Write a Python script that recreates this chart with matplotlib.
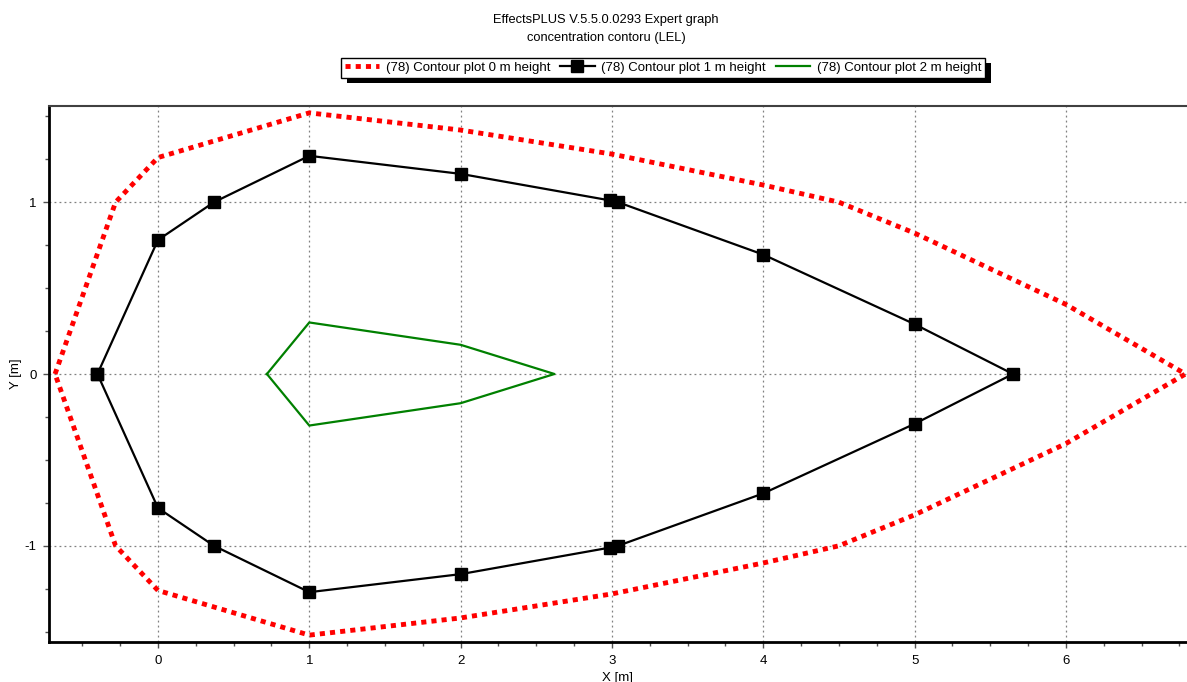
import matplotlib
matplotlib.use("Agg")
import matplotlib.pyplot as plt
from matplotlib.patches import Rectangle
from matplotlib.transforms import IdentityTransform
from matplotlib.ticker import MultipleLocator

plt.rcParams['font.family'] = ['Liberation Sans', 'DejaVu Sans']
plt.rcParams['axes.unicode_minus'] = False

# Contour at 0 m height
red_x = [-0.68, -0.28, 0.0, 1.0, 2.0, 3.0, 4.0, 4.5, 5.0, 6.0, 6.79,
         6.0, 5.0, 4.5, 4.0, 3.0, 2.0, 1.0, 0.0, -0.28, -0.68]
red_y = [0.0, 1.0, 1.26, 1.52, 1.42, 1.28, 1.10, 1.0, 0.82, 0.405, 0.0,
         -0.405, -0.82, -1.0, -1.10, -1.28, -1.42, -1.52, -1.26, -1.0, 0.0]

# Contour at 1 m height
blk_x = [-0.40, 0.0, 0.37, 1.0, 2.0, 2.99, 3.04, 4.0, 5.0, 5.65,
         5.0, 4.0, 3.04, 2.99, 2.0, 1.0, 0.37, 0.0, -0.40]
blk_y = [0.0, 0.78, 1.0, 1.27, 1.165, 1.01, 1.0, 0.695, 0.29, 0.0,
         -0.29, -0.695, -1.0, -1.01, -1.165, -1.27, -1.0, -0.78, 0.0]

# Contour at 2 m height
grn_x = [0.72, 1.0, 2.0, 2.62, 2.0, 1.0, 0.72]
grn_y = [0.0, 0.30, 0.17, 0.0, -0.17, -0.30, 0.0]

series_labels = ["(78) Contour plot 0 m height",
                 "(78) Contour plot 1 m height",
                 "(78) Contour plot 2 m height"]
title_lines = ["EffectsPLUS V.5.5.0.0293 Expert graph",
               "concentration contoru (LEL)"]

W, H = 1187, 682
fig = plt.figure(figsize=(W / 100, H / 100), dpi=100)
ax = fig.add_axes([49 / W, (H - 642) / H, 1 - 49 / W, (642 - 106) / H])

ax.plot(red_x, red_y, color='#ff0000', lw=3.5, ls=(0, (1.05, 1.05)),
        dash_capstyle='butt', solid_capstyle='butt', label=series_labels[0], zorder=3)
ax.plot(blk_x, blk_y, color='black', lw=1.6, marker='s', markersize=8,
        label=series_labels[1], zorder=4)
ax.plot(grn_x, grn_y, color='#008000', lw=1.6, label=series_labels[2], zorder=4)

ax.set_xlim(-0.72, 6.80)
ax.set_ylim(-1.56, 1.56)
ax.xaxis.set_major_locator(MultipleLocator(1))
ax.xaxis.set_minor_locator(MultipleLocator(0.25))
ax.yaxis.set_major_locator(MultipleLocator(1))
ax.yaxis.set_minor_locator(MultipleLocator(0.25))

ax.grid(True, which='major', color='#808080', lw=0.9, ls=(0, (1.5, 2.5)))
ax.set_axisbelow(True)

ax.tick_params(which='both', direction='out', labelsize=9.5, color='#505050')
ax.tick_params(which='major', length=4, width=1, pad=5)
ax.tick_params(which='minor', length=3, width=1)

for side in ('left', 'bottom'):
    ax.spines[side].set_linewidth(2.0)
    ax.spines[side].set_color('black')
ax.spines['top'].set_linewidth(1.5)
ax.spines['top'].set_color('#404040')
ax.spines['right'].set_visible(False)

ax.set_xlabel("X [m]", fontsize=9.5, labelpad=4)
ax.set_ylabel("Y [m]", fontsize=9.5, labelpad=2)

fig.text(606 / W, 1 - 20 / H, title_lines[0], ha='center', va='center', fontsize=9.3)
fig.text(606 / W, 1 - 38 / H, title_lines[1], ha='center', va='center', fontsize=9.3)

leg = fig.legend(loc='center', bbox_to_anchor=(663 / W, 1 - 68 / H), ncol=3,
                 fontsize=9.5, frameon=True, fancybox=False, framealpha=1,
                 edgecolor='black', handlelength=2.6, handletextpad=0.5,
                 columnspacing=0.75, borderpad=0.3, borderaxespad=0, numpoints=1)
leg.get_frame().set_linewidth(1.0)
leg.set_zorder(10)

# Drop shadow behind the legend box
fig.canvas.draw()
bb = leg.get_window_extent()
shadow = Rectangle((bb.x0 + 6, bb.y0 - 5), bb.width, bb.height,
                   transform=IdentityTransform(), facecolor='black',
                   edgecolor='none', zorder=9)
fig.add_artist(shadow)

fig.savefig("out.png", dpi=100)
